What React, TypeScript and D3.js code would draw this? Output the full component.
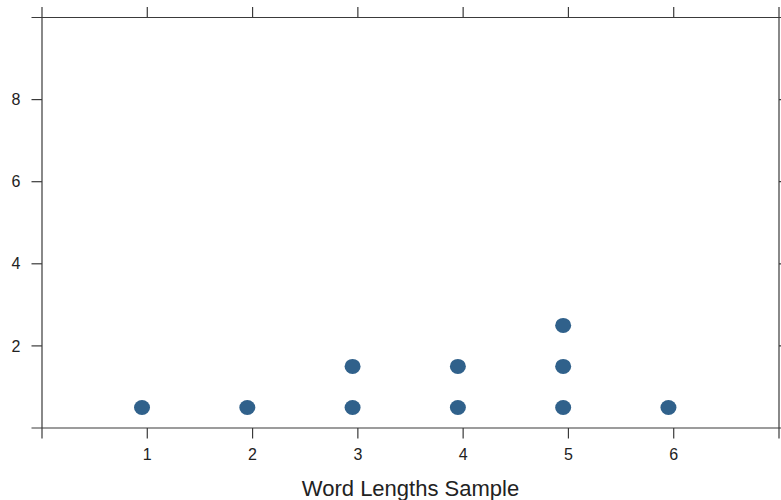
import React from "react";
import * as d3 from "d3";

const wordLengths = [1, 2, 3, 4, 5, 6];
const counts = [1, 1, 2, 2, 3, 1];
const xTickValues = [1, 2, 3, 4, 5, 6];
const yTickValues = [2, 4, 6, 8];
const xLabel = "Word Lengths Sample";

const W = 781;
const H = 500;
const left = 42;
const right = 779;
const top = 17.5;
const bottom = 428;
const tick = 10.5;

export default function App() {
  const x = d3.scaleLinear().domain([0, 7]).range([left, right]);
  const y = d3.scaleLinear().domain([0, 10]).range([bottom, top]);
  const dots: { v: number; k: number }[] = [];
  wordLengths.forEach((v, i) => {
    for (let k = 0; k < counts[i]; k++) dots.push({ v, k });
  });
  const axisColor = "#3a3a3a";
  const font = "'Liberation Sans', Arial, sans-serif";
  return (
    <svg width={W} height={H} style={{ position: "absolute", left: 0, top: 0 }}>
      <rect x={0} y={0} width={W} height={H} fill="#fff" />
      <line x1={left - tick} x2={W + 5} y1={top} y2={top} stroke={axisColor} strokeWidth={1.2} />
      <line x1={left - tick} x2={W + 5} y1={bottom} y2={bottom} stroke={axisColor} strokeWidth={1.2} />
      <line x1={left} x2={left} y1={top - tick} y2={bottom + tick} stroke={axisColor} strokeWidth={1.2} />
      <line x1={right} x2={right} y1={top - tick} y2={bottom + tick} stroke={axisColor} strokeWidth={1.2} />
      {xTickValues.map((t) => (
        <g key={"x" + t}>
          <line x1={x(t)} x2={x(t)} y1={top} y2={top - tick} stroke={axisColor} strokeWidth={1.2} />
          <line x1={x(t)} x2={x(t)} y1={bottom} y2={bottom + tick} stroke={axisColor} strokeWidth={1.2} />
          <text x={x(t)} y={460} textAnchor="middle" fontFamily={font} fontSize={16} fill="#222">
            {t}
          </text>
        </g>
      ))}
      {yTickValues.map((t) => (
        <g key={"y" + t}>
          <line x1={left} x2={left - tick} y1={y(t)} y2={y(t)} stroke={axisColor} strokeWidth={1.2} />
          <line x1={right} x2={right + tick} y1={y(t)} y2={y(t)} stroke={axisColor} strokeWidth={1.2} />
          <text x={20.5} y={y(t)} dy="0.35em" textAnchor="end" fontFamily={font} fontSize={16} fill="#222">
            {t}
          </text>
        </g>
      ))}
      {dots.map((d, i) => (
        <ellipse
          key={i}
          cx={x(d.v - 0.05)}
          cy={y(d.k + 0.5)}
          rx={8}
          ry={7.5}
          fill="#30618b"
        />
      ))}
      <text x={(left + right) / 2} y={496} textAnchor="middle" fontFamily={font} fontSize={22} fill="#222">
        {xLabel}
      </text>
    </svg>
  );
}
